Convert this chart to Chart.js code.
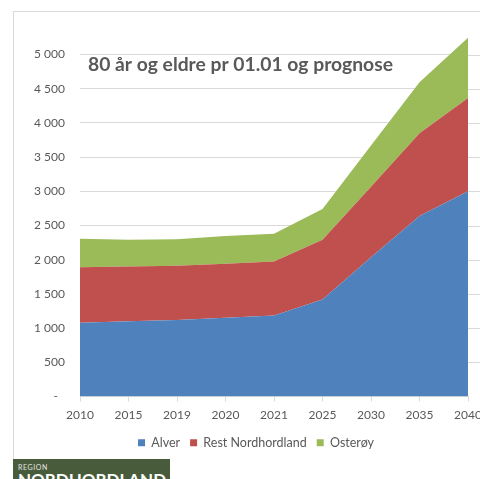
<!DOCTYPE html>
<html>
<head>
<meta charset="utf-8">
<script src="https://cdn.jsdelivr.net/npm/chart.js@4/dist/chart.umd.min.js"></script>
<style>
  body { margin: 0; background: #fff; }
  #wrap { position: relative; width: 480px; height: 479px; overflow: hidden; }
  #frame { position: absolute; left: 13px; top: 11px; width: 500px; height: 480px; border: 1px solid #d9d9d9; }
  #chart { position: absolute; left: 0; top: 0; }
  #logo { position: absolute; left: 13px; top: 459px; width: 157px; height: 30px; background: #485c3b; color: #fff; font-family: Lato, sans-serif; }
  #logo .small { position: absolute; left: 5px; top: 4px; font-size: 7px; letter-spacing: 0.6px; color: #e6e6e6; }
  #logo .big { position: absolute; left: 5px; top: 10px; font-size: 17px; font-weight: bold; letter-spacing: 0; }
</style>
</head>
<body>
<div id="wrap">
  <div id="frame"></div>
  <canvas id="chart" width="480" height="479"></canvas>
  <div id="logo"><span class="small">REGION</span><span class="big">NORDHORDLAND</span></div>
</div>
<script>
// data
const years = ["2010", "2015", "2019", "2020", "2021", "2025", "2030", "2035", "2040"];
const alver = [1080, 1100, 1120, 1150, 1185, 1420, 2035, 2640, 3000];
const restNordhordland = [810, 800, 790, 790, 790, 870, 1030, 1210, 1365];
const osteroy = [415, 390, 390, 405, 405, 450, 605, 745, 880];
const yTicks = [0, 500, 1000, 1500, 2000, 2500, 3000, 3500, 4000, 4500, 5000];

const chartTitle = "80 år og eldre pr 01.01 og prognose";
const textColor = "#595959";
const gridColor = "#d9d9d9";

function fmt(v) {
    if (v === 0) return "-\u2007";
    return String(v).replace(/\B(?=(\d{3})+(?!\d))/g, " ");
}

// title sits inside the plot, and gridlines run on past the last year
const extras = {
    id: "extras",
    beforeDatasetsDraw(chart) {
        const ctx = chart.ctx, area = chart.chartArea, y = chart.scales.y;
        ctx.save();
        ctx.strokeStyle = gridColor;
        ctx.lineWidth = 1;
        y.ticks.forEach(t => {
            if (t.value === 0) return;
            const py = Math.round(y.getPixelForValue(t.value)) + 0.5;
            ctx.beginPath();
            ctx.moveTo(area.right, py);
            ctx.lineTo(chart.width, py);
            ctx.stroke();
        });
        ctx.restore();
    },
    afterDraw(chart) {
        const ctx = chart.ctx, area = chart.chartArea;
        ctx.save();
        ctx.font = "bold 19.3px Lato";
        ctx.fillStyle = textColor;
        ctx.textBaseline = "alphabetic";
        ctx.fillText(chartTitle, area.left + 8, 71);
        ctx.restore();
    }
};

new Chart(document.getElementById("chart"), {
    type: "line",
    data: {
        labels: years,
        datasets: [
            { label: "Alver", data: alver, backgroundColor: "#4f81bd", borderColor: "#4f81bd", fill: "origin" },
            { label: "Rest Nordhordland", data: restNordhordland, backgroundColor: "#c0504d", borderColor: "#c0504d", fill: "-1" },
            { label: "Osterøy", data: osteroy, backgroundColor: "#9bbb59", borderColor: "#9bbb59", fill: "-1" }
        ]
    },
    options: {
        responsive: false,
        animation: false,
        layout: { padding: { top: 34, right: 0, bottom: 20, left: 32 } },
        elements: { point: { radius: 0 }, line: { borderWidth: 0, tension: 0 } },
        scales: {
            x: {
                offset: false,
                grid: { drawOnChartArea: false, drawTicks: true, tickLength: 5, color: gridColor },
                border: { color: gridColor },
                ticks: { color: textColor, font: { family: "Lato", size: 12 }, padding: 6, maxRotation: 0 },
                afterFit(scale) { scale.height = 30; scale.paddingRight = 12; scale.paddingLeft = 0; }
            },
            y: {
                stacked: true,
                min: 0,
                max: 5300,
                grid: { color: gridColor, drawTicks: false },
                border: { display: false },
                ticks: { color: textColor, font: { family: "Lato", size: 12 }, padding: 15, callback: v => fmt(v) },
                afterBuildTicks(scale) { scale.ticks = yTicks.map(v => ({ value: v })); },
                afterFit(scale) { scale.width = 48; }
            }
        },
        plugins: {
            legend: {
                position: "bottom",
                labels: { boxWidth: 7, boxHeight: 7, padding: 10, color: textColor, font: { family: "Lato", size: 12.5 } }
            },
            tooltip: { enabled: false }
        }
    },
    plugins: [extras]
});
</script>
</body>
</html>
